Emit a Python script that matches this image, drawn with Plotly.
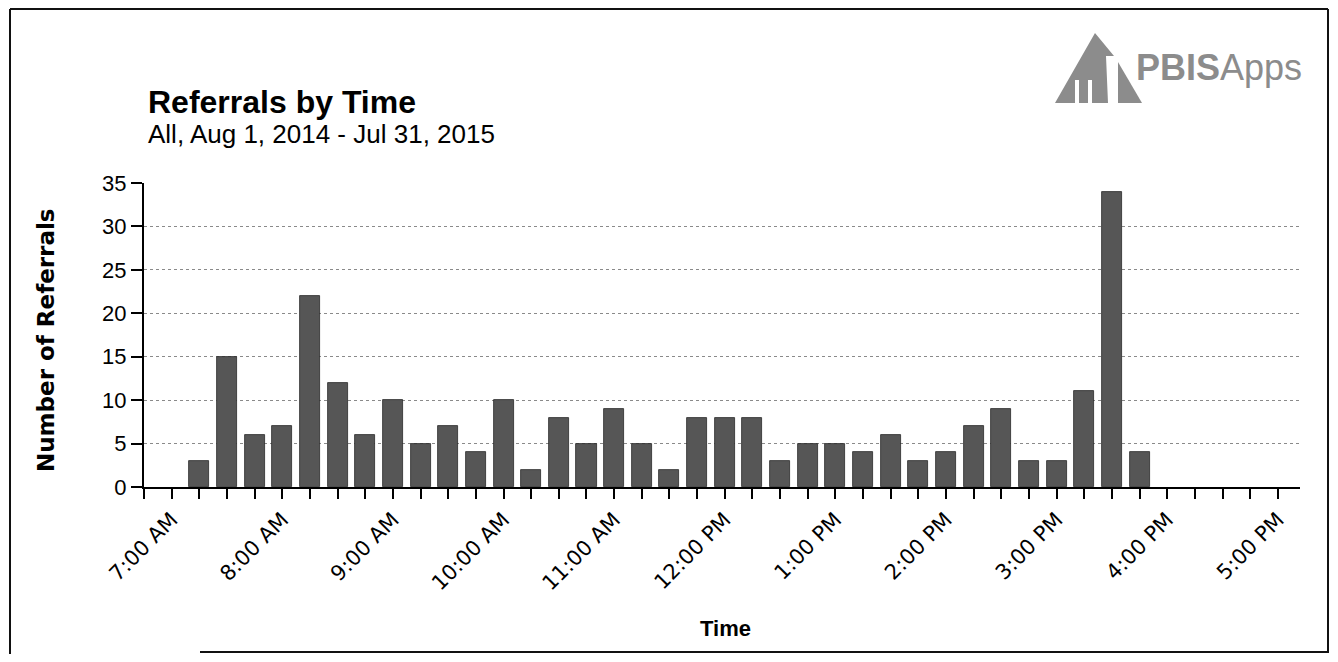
import pandas as pd
import plotly.graph_objects as go

# ---- data ----
times = ["07:00", "07:15", "07:30", "07:45", "08:00", "08:15", "08:30", "08:45",
         "09:00", "09:15", "09:30", "09:45", "10:00", "10:15", "10:30", "10:45",
         "11:00", "11:15", "11:30", "11:45", "12:00", "12:15", "12:30", "12:45",
         "13:00", "13:15", "13:30", "13:45", "14:00", "14:15", "14:30", "14:45",
         "15:00", "15:15", "15:30", "15:45", "16:00", "16:15", "16:30", "16:45",
         "17:00"]
referrals = [0, 3, 15, 6, 7, 22, 12, 6,
             10, 5, 7, 4, 10, 2, 8, 5,
             9, 5, 2, 8, 8, 8, 3, 5,
             5, 4, 6, 3, 4, 7, 9, 3,
             3, 11, 34, 4, 0, 0, 0, 0,
             0]
y_ticks = [0, 5, 10, 15, 20, 25, 30, 35]

title_text = "Referrals by Time"
subtitle_text = "All, Aug 1, 2014 - Jul 31, 2015"
x_title = "Time"
y_title = "Number of Referrals"

DAY = "2015-01-01 "
x_dt = pd.to_datetime([DAY + t for t in times])

# ---- layout geometry (target page pixels; page body has an 8px margin) ----
OFF = 8
W, H = 1338 - 2 * OFF, 662 - 2 * OFF
L, R, T, B = 144, 1300, 183, 487  # target page pixels of plot area


def px(x):
    return (x - L) / (R - L)


def py(y):
    return (B - y) / (B - T)


FONT = "Liberation Sans, Arial, sans-serif"
WIDE = "DejaVu Sans, sans-serif"

fig = go.Figure()
fig.add_trace(go.Bar(
    x=x_dt, y=referrals,
    width=652000,
    marker=dict(color="#565656",
                line=dict(color="#2a2a2a", width=[0 if v == 0 else 0.8 for v in referrals])),
    hovertemplate="%{x|%-I:%M %p}: %{y}<extra></extra>",
))

shapes = []
line_style = dict(color="#111", width=2)
shapes.append(dict(type="line", xref="paper", yref="paper", x0=px(10), x1=px(10), y0=py(9), y1=py(654), line=line_style))
shapes.append(dict(type="line", xref="paper", yref="paper", x0=px(1328), x1=px(1328), y0=py(9), y1=py(653), line=line_style))
shapes.append(dict(type="line", xref="paper", yref="paper", x0=px(10), x1=px(1328), y0=py(9), y1=py(9), line=line_style))
shapes.append(dict(type="line", xref="paper", yref="paper", x0=px(200), x1=px(1328), y0=py(652), y1=py(652), line=line_style))


def path(points):
    return "M " + " L ".join(f"{px(a):.5f},{py(b):.5f}" for a, b in points) + " Z"


logo_gray = "#8c8c8c"
shapes.append(dict(type="path", xref="paper", yref="paper",
                   path=path([(1055, 103), (1095, 33), (1114, 56), (1106, 56), (1108, 103)]),
                   fillcolor=logo_gray, line=dict(width=0)))
shapes.append(dict(type="path", xref="paper", yref="paper",
                   path=path([(1118, 62), (1118, 103), (1142, 103)]),
                   fillcolor=logo_gray, line=dict(width=0)))
for x0, x1 in [(1075, 1079), (1088, 1092)]:
    shapes.append(dict(type="rect", xref="paper", yref="paper",
                       x0=px(x0), x1=px(x1), y0=py(103.5), y1=py(80),
                       fillcolor="white", line=dict(width=0)))

annotations = [
    dict(text="<b>" + title_text + "</b>", xref="paper", yref="paper",
         x=px(146), y=py(102), xanchor="left", yanchor="middle", showarrow=False,
         font=dict(family=FONT, size=32, color="#000")),
    dict(text=subtitle_text, xref="paper", yref="paper",
         x=px(146), y=py(134), xanchor="left", yanchor="middle", showarrow=False,
         font=dict(family=FONT, size=26, color="#000")),
    dict(text="<b>PBIS</b>Apps", xref="paper", yref="paper",
         x=px(1134), y=py(68), xanchor="left", yanchor="middle", showarrow=False,
         font=dict(family=FONT, size=36, color=logo_gray)),
    dict(text="<b>" + y_title + "</b>", xref="paper", yref="paper",
         x=px(46), y=py(340), xanchor="center", yanchor="middle", showarrow=False,
         textangle=-90, font=dict(family=WIDE, size=23, color="#000")),
    dict(text="<b>" + x_title + "</b>", xref="paper", yref="paper",
         x=px(725), y=py(628), xanchor="center", yanchor="middle", showarrow=False,
         font=dict(family=FONT, size=22, color="#000")),
]

fig.update_layout(
    width=W, height=H,
    margin=dict(l=L - OFF, r=W - (R - OFF), t=T - OFF, b=H - (B - OFF), pad=0),
    paper_bgcolor="white", plot_bgcolor="white",
    showlegend=False,
    shapes=shapes,
    annotations=annotations,
    bargap=0,
    font=dict(family=FONT, color="#000"),
)

fig.update_xaxes(
    type="date",
    range=[DAY + "06:45", DAY + "17:12"],
    tick0=DAY + "07:00", dtick=3600000,
    tickformat="%-I:%M %p",
    tickangle=-45,
    ticks="outside", ticklen=10, tickwidth=2, tickcolor="#000",
    minor=dict(dtick=900000, tick0=DAY + "07:00", ticks="outside", ticklen=10,
               tickwidth=2, tickcolor="#000", showgrid=False),
    showline=True, linecolor="#000", linewidth=2,
    showgrid=False, zeroline=False,
    tickfont=dict(family=WIDE, size=21, color="#000"),
)
fig.update_yaxes(
    range=[0, 35], tickvals=y_ticks,
    ticks="outside", ticklen=11, tickwidth=2, tickcolor="#000",
    showline=True, linecolor="#000", linewidth=2,
    showgrid=True, gridcolor="#8a8a8a", gridwidth=1, griddash="dot",
    zeroline=False,
    tickfont=dict(family=FONT, size=22, color="#000"),
)

fig.write_html("out.html")
